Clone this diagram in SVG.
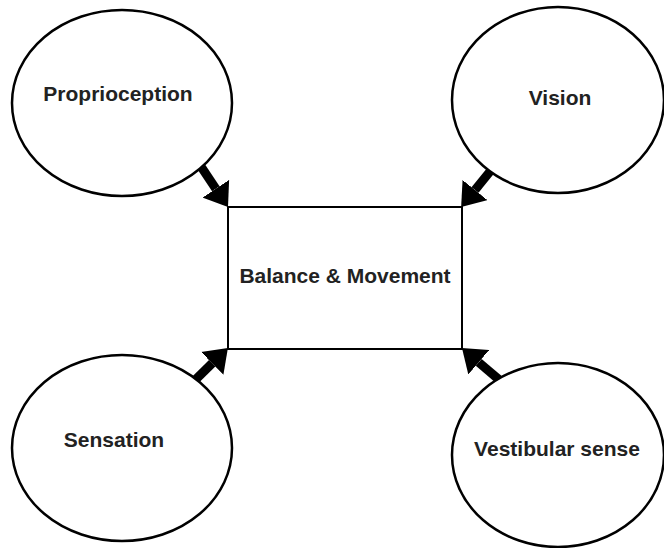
<svg xmlns="http://www.w3.org/2000/svg" width="664" height="548" viewBox="0 0 664 548">
  <style>
    .node { fill: #ffffff; stroke: #000000; stroke-width: 2.5; }
    .box { fill: #ffffff; stroke: #000000; stroke-width: 2; }
    .label { font-family: "Liberation Sans", Arial, sans-serif; font-weight: bold; font-size: 21px; fill: #222222; text-anchor: middle; }
    .conn { stroke: #000000; stroke-width: 9; fill: none; marker-end: url(#head); }
  </style>
  <defs>
    <marker id="head" markerUnits="userSpaceOnUse" markerWidth="22" markerHeight="32" refX="0" refY="16" orient="auto">
      <path d="M0,0 L22,16 L0,32 Z" fill="#000000"/>
    </marker>
  </defs>
  <rect width="664" height="548" fill="#ffffff"/>
  <g id="connectors">
    <line class="conn" x1="190" y1="150" x2="215.8" y2="188.7"/>
    <line class="conn" x1="505" y1="153" x2="475" y2="190"/>
    <line class="conn" x1="185" y1="390" x2="212.2" y2="363.3"/>
    <line class="conn" x1="510" y1="389" x2="478.7" y2="362.3"/>
  </g>
  <g id="proprioception">
    <ellipse class="node" cx="122" cy="103" rx="110" ry="93"/>
    <text class="label" x="118" y="101">Proprioception</text>
  </g>
  <g id="vision">
    <ellipse class="node" cx="558" cy="100" rx="106" ry="93"/>
    <text class="label" x="560" y="105">Vision</text>
  </g>
  <g id="sensation">
    <ellipse class="node" cx="122" cy="448" rx="110" ry="93"/>
    <text class="label" x="114" y="447">Sensation</text>
  </g>
  <g id="vestibular">
    <ellipse class="node" cx="558" cy="455" rx="106" ry="92"/>
    <text class="label" x="557" y="456">Vestibular sense</text>
  </g>
  <g id="balance">
    <rect class="box" x="228" y="207" width="234" height="142"/>
    <text class="label" x="345" y="283">Balance &amp; Movement</text>
  </g>
</svg>
